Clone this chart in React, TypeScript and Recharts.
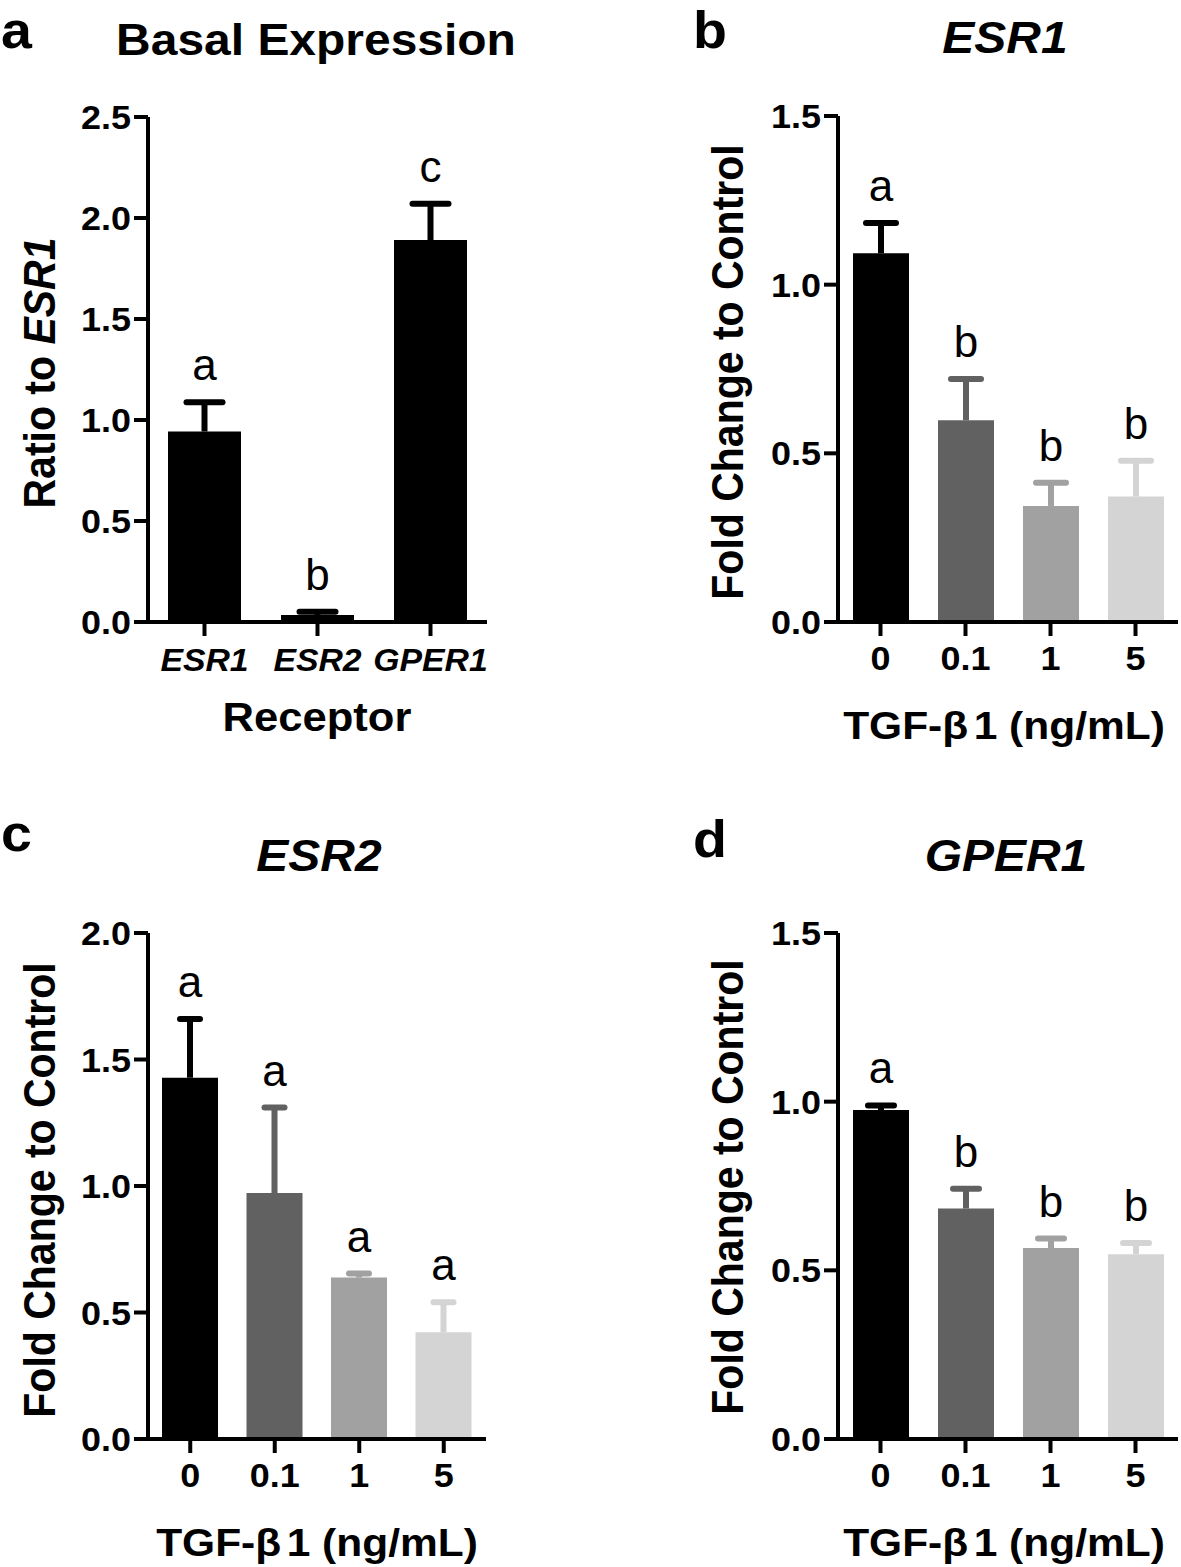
import React from "react";
import { BarChart, Bar, XAxis, YAxis, Cell, LabelList } from "recharts";

// Prism-style 4-panel figure: basal receptor expression + TGF-b1 dose response.
const FONT = "'Liberation Sans', Arial, Helvetica, sans-serif";
const INK = "#000000";
const GREYS = ["#000000", "#616161", "#a1a1a1", "#d4d4d4"];
const BLACKS = ["#000000", "#000000", "#000000"];
const SX = 1.09; // the source figure is a little stretched horizontally

// panel a: basal expression, ratio to ESR1
const receptors = ["ESR1", "ESR2", "GPER1"];
const basalMean = [0.943, 0.035, 1.891];
const basalSem = [0.145, 0.016, 0.18];
const basalLetters = ["a", "b", "c"];

// panels b-d: TGF-b1 dose (ng/mL)
const doses = ["0", "0.1", "1", "5"];

const esr1Mean = [1.093, 0.598, 0.344, 0.372];
const esr1Sem = [0.09, 0.122, 0.069, 0.106];
const esr1Letters = ["a", "b", "b", "b"];

const esr2Mean = [1.428, 0.972, 0.638, 0.422];
const esr2Sem = [0.232, 0.338, 0.016, 0.119];
const esr2Letters = ["a", "a", "a", "a"];

const gperMean = [0.975, 0.683, 0.566, 0.548];
const gperSem = [0.014, 0.059, 0.028, 0.033];
const gperLetters = ["a", "b", "b", "b"];

const ticks25 = [0, 0.5, 1, 1.5, 2, 2.5];
const ticks20 = [0, 0.5, 1, 1.5, 2];
const ticks15 = [0, 0.5, 1, 1.5];

const YW = 80;
const XH = 70;

function makeXTick(size: number, italic: boolean, dy: number) {
  return (props: any) => {
    const { x, y, payload } = props;
    return (
      <text
        transform={`translate(${x} ${y}) scale(${SX} 1)`}
        textAnchor="middle"
        dy={dy}
        fontSize={size}
        fontWeight={700}
        fontStyle={italic ? "italic" : "normal"}
        fill={INK}
      >
        {payload.value}
      </text>
    );
  };
}

function yTick(props: any) {
  const { x, y, payload } = props;
  return (
    <text
      transform={`translate(${x} ${y}) scale(${SX} 1)`}
      textAnchor="end"
      dy={12}
      fontSize={33}
      fontWeight={700}
      fill={INK}
    >
      {Number(payload.value).toFixed(1)}
    </text>
  );
}

// upper-only SEM whisker, drawn in the stacked segment that sits on top of the mean
function makeErrShape(colors: string[], cats: string[], cap: number) {
  return (props: any) => {
    const { x, y, width, height, payload } = props;
    if (!height) return <g />;
    const idx = typeof props.index === "number" ? props.index : cats.indexOf(payload.cat);
    const c = colors[idx] ?? INK;
    const cx = x + width / 2;
    return (
      <g>
        <line x1={cx} x2={cx} y1={y + height} y2={y} stroke={c} strokeWidth={6} />
        <line x1={cx - cap} x2={cx + cap} y1={y} y2={y} stroke={c} strokeWidth={6} strokeLinecap="round" />
      </g>
    );
  };
}

type Box = { left: number; top: number; width: number; height: number };
type Plot = { x0: number; x1: number; y0: number; y1: number };

function Panel({
  box,
  plot,
  cats,
  means,
  sems,
  letters,
  colors,
  max,
  ticks,
  barSize,
  cap,
  italicTicks = false,
}: {
  box: Box;
  plot: Plot;
  cats: string[];
  means: number[];
  sems: number[];
  letters: string[];
  colors: string[];
  max: number;
  ticks: number[];
  barSize: number;
  cap: number;
  italicTicks?: boolean;
}) {
  const data = cats.map((cat, i) => ({ cat, mean: means[i], sem: sems[i], letter: letters[i] }));
  const margin = {
    left: plot.x0 - box.left - YW,
    right: box.left + box.width - plot.x1,
    top: plot.y0 - box.top,
    bottom: box.top + box.height - plot.y1 - XH,
  };
  const axisStroke = { stroke: INK, strokeWidth: 4 };
  return (
    <div style={{ position: "absolute", left: box.left, top: box.top }}>
      <BarChart width={box.width} height={box.height} data={data} margin={margin} barCategoryGap={0}>
        <XAxis
          dataKey="cat"
          height={XH}
          interval={0}
          tickSize={14}
          tickMargin={0}
          axisLine={axisStroke}
          tickLine={axisStroke}
          tick={italicTicks ? makeXTick(31, true, 35) : makeXTick(33, false, 34)}
        />
        <YAxis
          type="number"
          domain={[0, max]}
          ticks={ticks}
          interval={0}
          width={YW}
          tickSize={14}
          tickMargin={3}
          axisLine={axisStroke}
          tickLine={axisStroke}
          tick={yTick}
        />
        <Bar dataKey="mean" stackId="s" barSize={barSize} isAnimationActive={false}>
          {data.map((d, i) => (
            <Cell key={d.cat} fill={colors[i]} />
          ))}
        </Bar>
        <Bar
          dataKey="sem"
          stackId="s"
          barSize={barSize}
          isAnimationActive={false}
          shape={makeErrShape(colors, cats, cap)}
        >
          <LabelList dataKey="letter" position="top" offset={22} fill={INK} fontSize={44} />
        </Bar>
      </BarChart>
    </div>
  );
}

function T({
  x,
  y,
  size,
  italic = false,
  anchor = "middle",
  rotate = false,
  children,
}: {
  x: number;
  y: number;
  size: number;
  italic?: boolean;
  anchor?: "start" | "middle" | "end";
  rotate?: boolean;
  children: React.ReactNode;
}) {
  const tf = `translate(${x} ${y}) scale(${SX} 1)${rotate ? " rotate(-90)" : ""}`;
  return (
    <text
      transform={tf}
      textAnchor={anchor}
      fontSize={size}
      fontWeight={700}
      fontStyle={italic ? "italic" : "normal"}
      fill={INK}
    >
      {children}
    </text>
  );
}

function DoseTitle({ x, y }: { x: number; y: number }) {
  return (
    <T x={x} y={y} size={39}>
      TGF-β<tspan dx={5}>1 (ng/mL)</tspan>
    </T>
  );
}

export default function App() {
  return (
    <div
      style={{
        position: "absolute",
        left: 0,
        top: 0,
        width: 1181,
        height: 1567,
        background: "#fff",
        fontFamily: FONT,
        overflow: "hidden",
      }}
    >
      <Panel
        box={{ left: 0, top: 0, width: 590, height: 780 }}
        plot={{ x0: 148, x1: 487, y0: 117, y1: 622 }}
        cats={receptors}
        means={basalMean}
        sems={basalSem}
        letters={basalLetters}
        colors={BLACKS}
        max={2.5}
        ticks={ticks25}
        barSize={73}
        cap={18}
        italicTicks
      />
      <Panel
        box={{ left: 590, top: 0, width: 591, height: 780 }}
        plot={{ x0: 838, x1: 1178, y0: 116, y1: 622 }}
        cats={doses}
        means={esr1Mean}
        sems={esr1Sem}
        letters={esr1Letters}
        colors={GREYS}
        max={1.5}
        ticks={ticks15}
        barSize={56}
        cap={15}
      />
      <Panel
        box={{ left: 0, top: 780, width: 590, height: 787 }}
        plot={{ x0: 148, x1: 486, y0: 933, y1: 1439 }}
        cats={doses}
        means={esr2Mean}
        sems={esr2Sem}
        letters={esr2Letters}
        colors={GREYS}
        max={2}
        ticks={ticks20}
        barSize={56}
        cap={10}
      />
      <Panel
        box={{ left: 590, top: 780, width: 591, height: 787 }}
        plot={{ x0: 838, x1: 1178, y0: 933, y1: 1439 }}
        cats={doses}
        means={gperMean}
        sems={gperSem}
        letters={gperLetters}
        colors={GREYS}
        max={1.5}
        ticks={ticks15}
        barSize={56}
        cap={13}
      />

      <svg
        width={1181}
        height={1567}
        style={{ position: "absolute", left: 0, top: 0, pointerEvents: "none", fontFamily: FONT }}
      >
        {/* panel letters */}
        <T x={1} y={48} size={51} anchor="start">a</T>
        <T x={693} y={48} size={51} anchor="start">b</T>
        <T x={1} y={851} size={51} anchor="start">c</T>
        <T x={693} y={857} size={51} anchor="start">d</T>

        {/* panel titles */}
        <T x={316} y={55} size={44}>Basal Expression</T>
        <T x={1005} y={53} size={44} italic>ESR1</T>
        <T x={319} y={871} size={44} italic>ESR2</T>
        <T x={1006} y={871} size={44} italic>GPER1</T>

        {/* y-axis titles */}
        <T x={55} y={373} size={41} rotate>
          Ratio to <tspan fontStyle="italic">ESR1</tspan>
        </T>
        <T x={743} y={372} size={41} rotate>Fold Change to Control</T>
        <T x={55} y={1190} size={41} rotate>Fold Change to Control</T>
        <T x={743} y={1187} size={41} rotate>Fold Change to Control</T>

        {/* x-axis titles */}
        <T x={317} y={731} size={40}>Receptor</T>
        <DoseTitle x={1004} y={739} />
        <DoseTitle x={317} y={1556} />
        <DoseTitle x={1004} y={1556} />
      </svg>
    </div>
  );
}
